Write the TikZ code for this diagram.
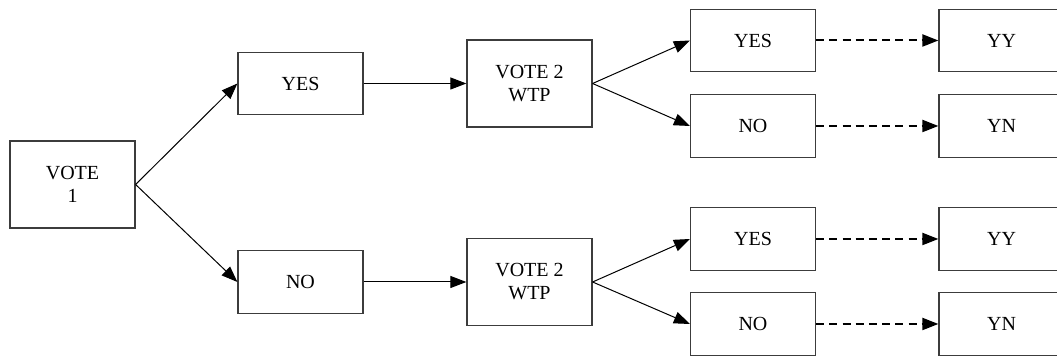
\documentclass[tikz,border=0pt]{standalone}
\usepackage{fontspec}
\setmainfont{Liberation Serif}
\usetikzlibrary{arrows.meta}
\definecolor{cbox}{RGB}{60,60,60}
\tikzset{votetree/.style={x=0.5pt,y=-0.5pt,font=\fontsize{10}{11.5}\selectfont,
    >={Triangle[length=8pt,width=6pt]}},
  votebox/.style={draw=cbox,line width=0.6pt,minimum width=62.5pt,inner sep=0pt,align=center},
  tallbox/.style={votebox,minimum height=43.5pt},
  flatbox/.style={votebox,minimum height=31.3pt},
  solidarr/.style={->,line width=0.5pt},
  dasharr/.style={->,line width=1pt,dash pattern=on 4pt off 2.6pt}}

\begin{document}
\begin{tikzpicture}[votetree]
    \useasboundingbox (0,0) rectangle (1057,356);
    \clip (0,0) rectangle (1057,356);
    \node[tallbox] (v1) at (72.5,184.5) {VOTE\\1}; % first vote
    \node[flatbox] (yes1) at (300.5,83.5) {YES};
    \node[flatbox] (no1) at (300.5,282) {NO};
    \node[tallbox] (v2a) at (529.5,83.5) {VOTE 2\\WTP}; % second vote, upper
    \node[tallbox] (v2b) at (529.5,282) {VOTE 2\\WTP}; % second vote, lower
    \node[flatbox] (ya) at (753,40.5) {YES};
    \node[flatbox] (na) at (753,126) {NO};
    \node[flatbox] (yb) at (753,239) {YES};
    \node[flatbox] (nb) at (753,324) {NO};
    \node[flatbox] (yya) at (1001.5,40.5) {YY}; % outcomes
    \node[flatbox] (yna) at (1001.5,126) {YN};
    \node[flatbox] (yyb) at (1001.5,239) {YY};
    \node[flatbox] (ynb) at (1001.5,324) {YN};
    \draw[solidarr] (v1.east) -- (yes1.west);
    \draw[solidarr] (v1.east) -- (no1.west);
    \draw[solidarr] (yes1) -- (v2a);
    \draw[solidarr] (no1) -- (v2b);
    \foreach \v/\y/\n in {v2a/ya/na,v2b/yb/nb} {
      \draw[solidarr] (\v.east) -- (\y.west);
      \draw[solidarr] (\v.east) -- (\n.west);
    }
    \foreach \a/\b in {ya/yya,na/yna,yb/yyb,nb/ynb} \draw[dasharr] (\a) -- (\b); % dashed to outcomes
\end{tikzpicture}
\end{document}
